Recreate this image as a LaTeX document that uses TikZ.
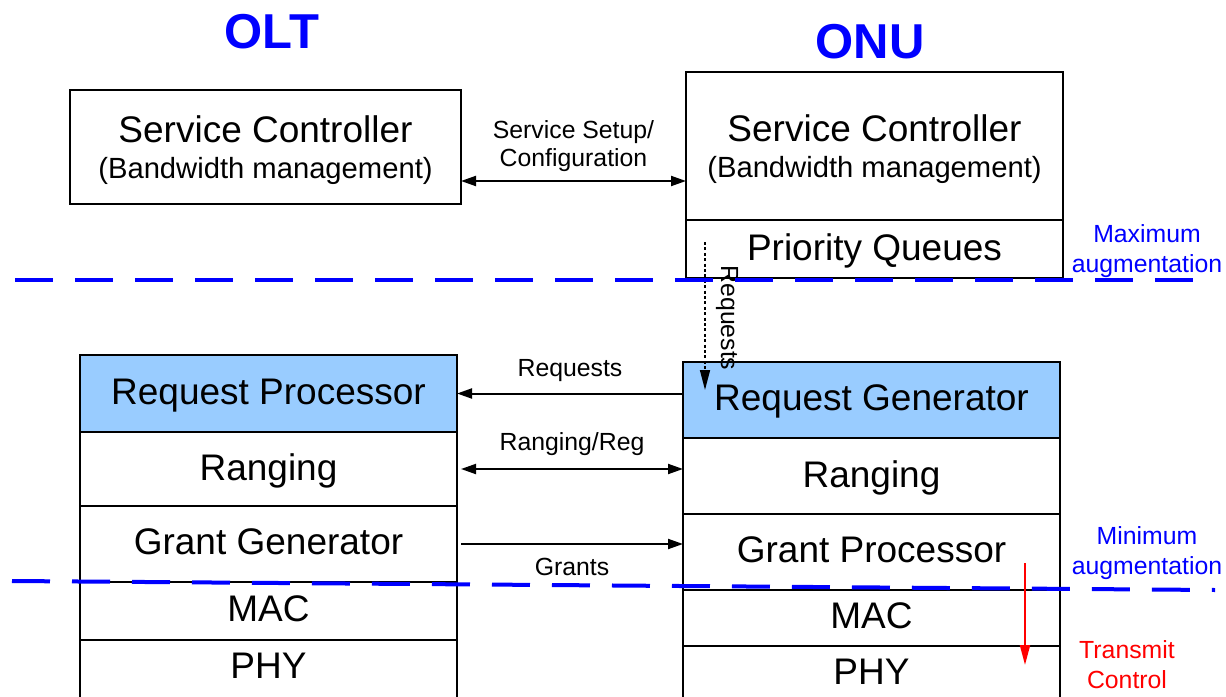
\documentclass[tikz,border=0pt]{standalone}
\usepackage{fontspec}
\setmainfont{Liberation Sans}
\usetikzlibrary{positioning,arrows.meta}

\definecolor{procblue}{RGB}{153,204,255}

\tikzset{
  layer/.style={draw, line width=1pt, inner sep=0pt, outer sep=0pt, align=center,
    text depth=2pt, font=\fontsize{18.5}{19}\selectfont},
  stack/.style={layer, minimum width=188.5pt},
  phy/.style={stack, minimum height=40pt, text depth=14pt},
  title/.style={text=blue, font=\fontsize{24.5}{28}\selectfont\bfseries},
  msg/.style={font=\fontsize{12.4}{14}\selectfont, align=center},
  side/.style={msg, font=\fontsize{12.4}{15}\selectfont},
  boundary/.style={blue, line width=2pt, dash pattern=on 19pt off 11pt},
  link/.style={line width=1pt, -{Triangle[length=7.5pt,width=5pt]}},
  dlink/.style={line width=1pt, {Triangle[length=7.5pt,width=5pt]}-{Triangle[length=7.5pt,width=5pt]}},
}

\begin{document}
\begin{tikzpicture}[x=0.5pt,y=-0.5pt]
	\clip (0,0) rectangle (1226,696);

	% headings
	\node[title] (olt) at (272,32) {OLT};
	\node[title] (onu) at (870,42) {ONU};

	% service controllers
	\node[layer, minimum width=195.5pt, minimum height=57pt, anchor=north west, text depth=0pt] (oltsc) at (70,90)
		{Service Controller\\[-1pt]{\fontsize{14.6}{18}\selectfont (Bandwidth management)}};
	\node[stack, minimum height=74pt, anchor=north west, text depth=0pt] (onusc) at (686,72)
		{Service Controller\\[-1pt]{\fontsize{14.6}{18}\selectfont (Bandwidth management)}};
	\node[stack, minimum height=29pt, below=0pt of onusc] (onupq) {Priority Queues};

	% OLT stack
	\node[stack, fill=procblue, minimum height=38.5pt, anchor=north west] (oltreq) at (80,355) {Request Processor};
	\node[stack, minimum height=37pt, below=0pt of oltreq] (oltrng) {Ranging};
	\node[stack, minimum height=38pt, below=0pt of oltrng] (oltgrant) {Grant Generator};
	\node[stack, minimum height=29pt, below=0pt of oltgrant] (oltmac) {MAC};
	\node[phy, below=0pt of oltmac] (oltphy) {PHY};

	% ONU stack
	\node[stack, fill=procblue, minimum height=38pt, anchor=north west] (onureq) at (683,362) {Request Generator};
	\node[stack, minimum height=38pt, below=0pt of onureq] (onurng) {Ranging};
	\node[stack, minimum height=38pt, below=0pt of onurng] (onugrant) {Grant Processor};
	\node[stack, minimum height=28pt, below=0pt of onugrant] (onumac) {MAC};
	\node[phy, below=0pt of onumac] (onuphy) {PHY};

	% messages between OLT and ONU
	\draw[dlink] (oltsc.east |- 0,181) -- (onusc.west |- 0,181)
		node[midway, above=1pt, msg] (setuplbl) {Service Setup/\\Configuration};
	\draw[link] (onureq.west |- oltreq.east) -- (oltreq.east)
		node[midway, above=2pt, msg] (reqlbl) {Requests};
	\draw[dlink] ([xshift=2pt]oltrng.east) -- (onurng.west |- oltrng.east)
		node[midway, above=3pt, msg] (rnglbl) {Ranging/Reg};
	\draw[link] ([xshift=2pt]oltgrant.east) -- (onugrant.west |- oltgrant.east)
		node[midway, below=3.5pt, msg] (grantlbl) {Grants};

	% queue reports
	\coordinate (qtap) at (705,242);
	\coordinate (qend) at (705,390);
	\draw[line width=0.8pt, dash pattern=on 1.5pt off 1.2pt, -{Triangle[length=10pt,width=5pt]}] (qtap) -- (qend);
	\node[msg, rotate=-90] (qlbl) at (727,318) {Requests};

	% augmentation boundaries
	\draw[boundary] (15,280) -- (1215,280);
	\draw[boundary] (12,581) -- (1215,590);
	\node[side, text=blue] (maxaug) at (1147,251) {Maximum\\augmentation};
	\node[side, text=blue] (minaug) at (1147,553) {Minimum\\augmentation};

	% transmit control
	\coordinate (txtop) at (1025,563);
	\coordinate (txbot) at (1025,665);
	\draw[red, line width=1pt, -{Triangle[length=10pt,width=5pt]}] (txtop) -- (txbot);
	\node[side, text=red] (txlbl) at (1127,665) {Transmit\\Control};
\end{tikzpicture}
\end{document}
